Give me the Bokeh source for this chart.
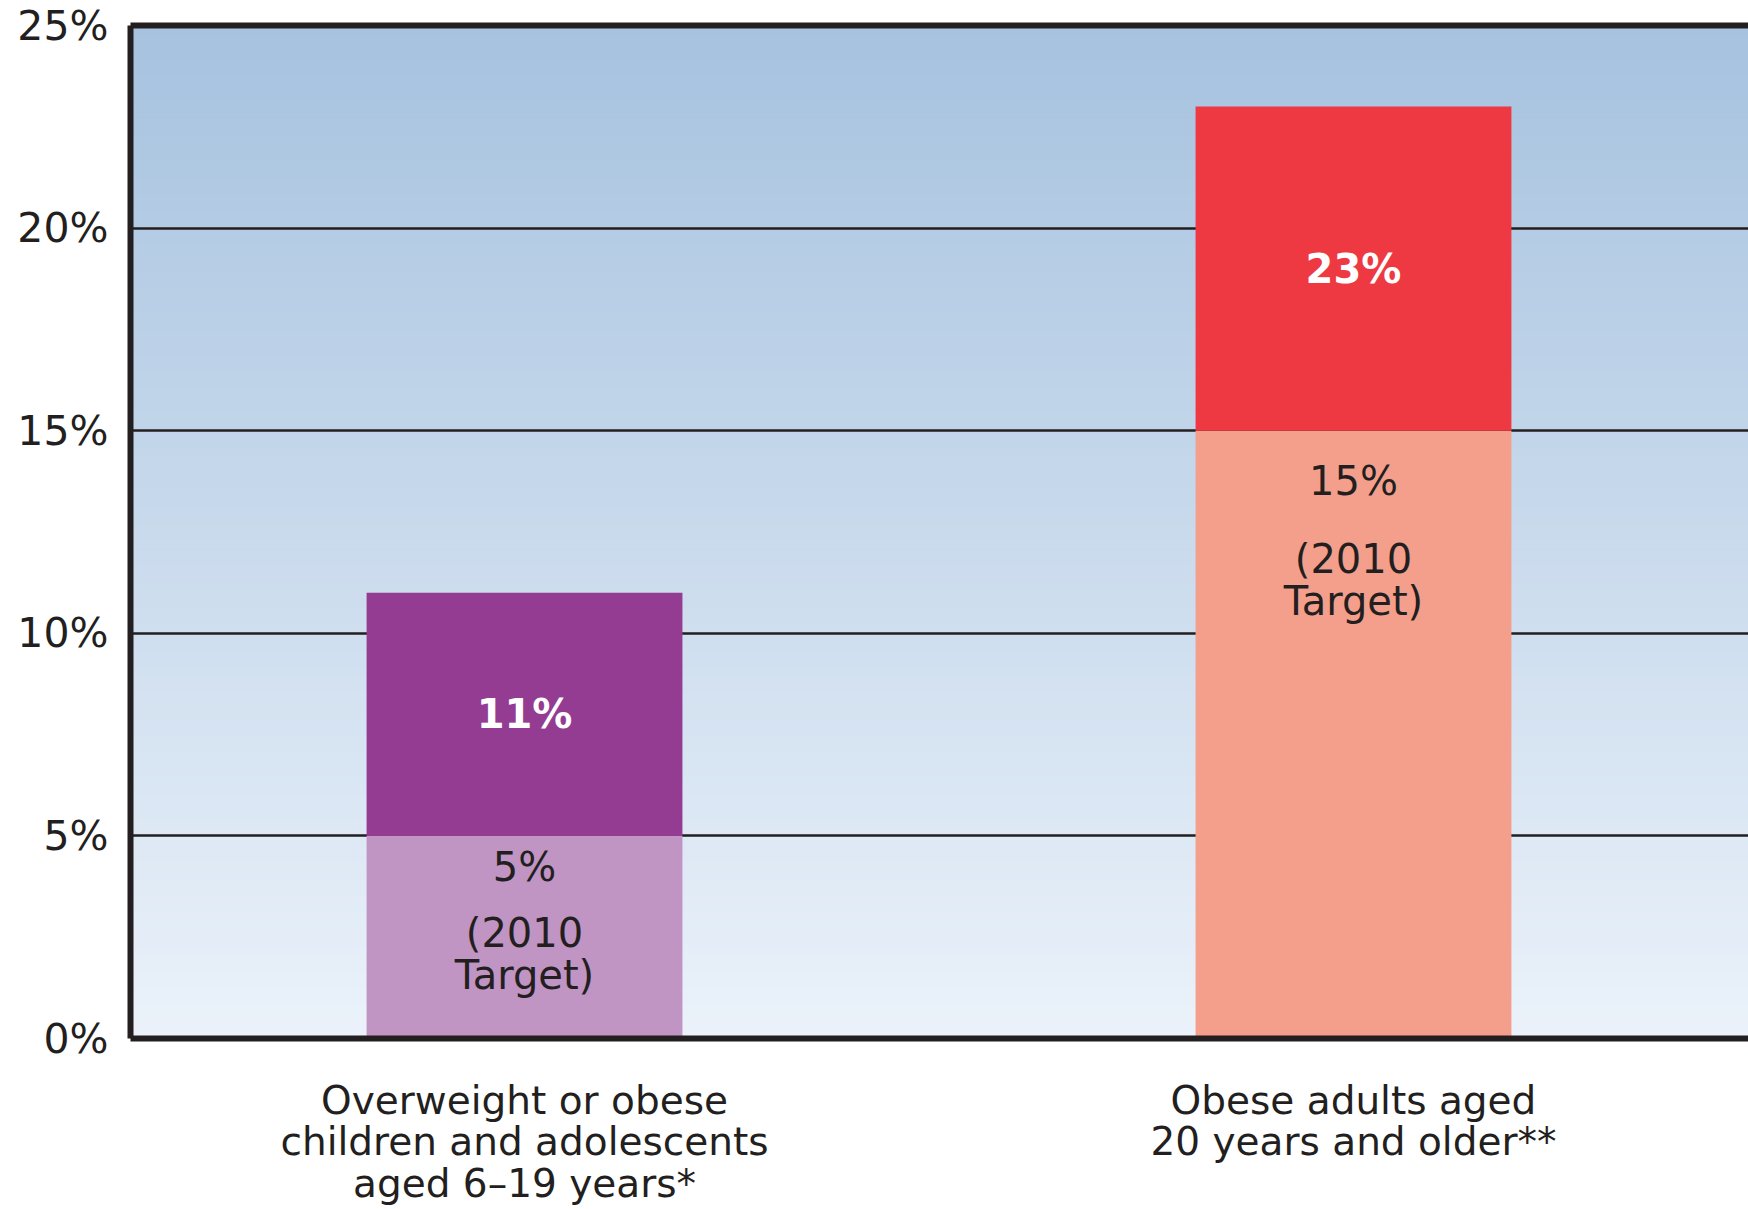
from bokeh.plotting import figure
from bokeh.models import Range1d, FixedTicker, LinearAxis, ColumnDataSource
from bokeh.core.properties import value
from bokeh.embed import file_html
from bokeh.resources import INLINE
import numpy as np

# ---- data ----
categories = [
    "Overweight or obese\nchildren and adolescents\naged 6\u201319 years*",
    "Obese adults aged\n20 years and older**",
]
current_pct = [11, 23]          # current prevalence (%)
target_pct = [5, 15]            # 2010 target (%)
y_ticks = [0, 5, 10, 15, 20, 25]
y_tick_labels = ["0%", "5%", "10%", "15%", "20%", "25%"]
target_note = "(2010\nTarget)"

# ---- styles ----
upper_colors = ["#943b92", "#ee3942"]
lower_colors = ["#c094c3", "#f49f8c"]
target_label_offsets = [31, 50]     # px below target level
note_offsets = [118, 149]           # px below target level
dark = "#231f20"
FONT = "DejaVu Sans"
bg_top = np.array([0xa6, 0xc2, 0xdf])
bg_bottom = np.array([0xeb, 0xf2, 0xfa])

xs = np.arange(len(categories))
x_start, x_end = -0.4753, len(categories) - 1 + 0.4765
y_start, y_end = 0, 25

p = figure(width=1748, height=1209, output_backend="svg", toolbar_location=None,
           x_range=Range1d(x_start, x_end), y_range=Range1d(y_start, y_end),
           min_border_left=130, min_border_right=0, min_border_top=25,
           min_border_bottom=165, x_axis_location="below")
p.outline_line_color = None
p.background_fill_color = "white"
p.border_fill_color = "white"

# gradient background
n = 120
edges = np.linspace(y_start, y_end, n + 1)
fr = (edges[:-1] + edges[1:]) / 2 / y_end
cols = ["#%02x%02x%02x" % tuple((bg_bottom + (bg_top - bg_bottom) * f).round().astype(int)) for f in fr]
p.quad(left=x_start, right=x_end, bottom=edges[:-1], top=edges[1:], fill_color=cols,
       line_color=cols, line_width=1, level="image")

# bars
src = ColumnDataSource(dict(x=xs, cur=current_pct, tgt=target_pct,
                            mid=[(a + b) / 2 for a, b in zip(current_pct, target_pct)],
                            cur_lbl=[f"{v}%" for v in current_pct],
                            tgt_lbl=[f"{v}%" for v in target_pct],
                            note=[target_note] * len(categories),
                            uc=upper_colors, lc=lower_colors,
                            toff=target_label_offsets, noff=note_offsets))
p.vbar(x="x", bottom=0, top="tgt", width=0.381, fill_color="lc", line_color=None, source=src)
p.vbar(x="x", bottom="tgt", top="cur", width=0.381, fill_color="uc", line_color=None, source=src)

p.text(x="x", y="mid", text="cur_lbl", source=src, text_color="white",
       text_font=value(FONT), text_font_style="bold", text_font_size="40px",
       text_align="center", text_baseline="middle")
p.text(x="x", y="tgt", text="tgt_lbl", source=src, y_offset="toff", text_color=dark,
       text_font=value(FONT), text_font_size="40px",
       text_align="center", text_baseline="middle")
p.text(x="x", y="tgt", text="note", source=src, y_offset="noff", text_color=dark,
       text_font=value(FONT), text_font_size="40px", text_line_height=0.92,
       text_align="center", text_baseline="middle")

# grid
p.xgrid.visible = False
p.ygrid.ticker = FixedTicker(ticks=y_ticks)
p.ygrid.grid_line_color = dark
p.ygrid.grid_line_width = 2.5

# y axis
ya = p.yaxis[0]
ya.ticker = FixedTicker(ticks=y_ticks)
ya.major_label_overrides = {t: l for t, l in zip(y_ticks, y_tick_labels)}
ya.major_tick_line_color = None
ya.minor_tick_line_color = None
ya.axis_line_color = dark
ya.axis_line_width = 6
ya.major_label_text_font = FONT
ya.major_label_text_font_size = "41px"
ya.major_label_text_color = dark
ya.major_label_standoff = 16

# x axis
xa = p.xaxis[0]
xa.ticker = FixedTicker(ticks=list(xs))
xa.major_label_overrides = {int(i): c for i, c in zip(xs, categories)}
xa.major_tick_line_color = None
xa.minor_tick_line_color = None
xa.axis_line_color = dark
xa.axis_line_width = 6
xa.major_label_text_font = FONT
xa.major_label_text_font_size = "39px"
xa.major_label_text_line_height = 0.93
xa.major_label_text_color = dark
xa.major_label_standoff = 33

# top border as axis
top = LinearAxis(ticker=FixedTicker(ticks=[]), major_label_text_font_size="0px",
                 major_tick_line_color=None, minor_tick_line_color=None,
                 axis_line_color=dark, axis_line_width=6)
p.add_layout(top, "above")

open("out.html", "w").write(file_html(p, INLINE))
